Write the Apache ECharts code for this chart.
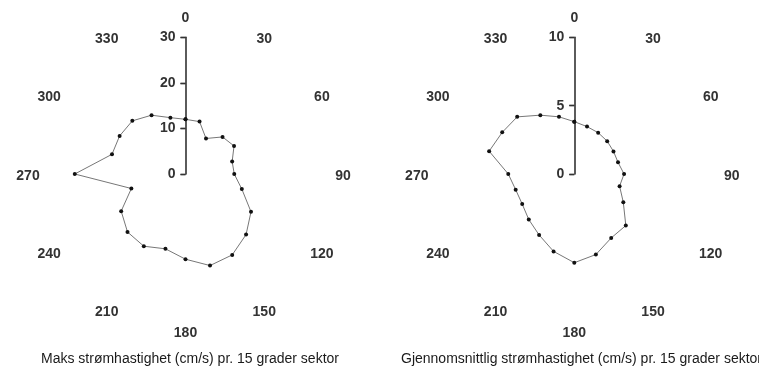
<!DOCTYPE html>
<html><head><meta charset="utf-8">
<script src="https://cdn.jsdelivr.net/npm/echarts@6/dist/echarts.min.js"></script>
<style>html,body{margin:0;padding:0;background:#fff}#c{width:759px;height:369px}</style>
</head><body><div id="c"></div>
<script>
var sectors = [0,15,30,45,60,75,90,105,120,135,150,165,180,195,210,225,240,255,270,285,300,315,330,345];
var maxSpeed = [12,11.9,9.0,11.5,12.3,10.6,10.7,12.8,16.6,18.8,20.5,20.8,18.7,17.0,18.3,18.0,16.3,12.3,24.3,16.7,16.7,16.5,14.9,12.8];
var meanSpeed = [3.83,3.59,3.49,3.40,3.31,3.31,3.64,3.43,4.14,5.33,5.40,6.10,6.49,5.86,5.15,4.71,4.40,4.44,4.83,6.45,6.09,5.91,4.97,4.33];
var leftTitle = 'Maks strømhastighet (cm/s) pr. 15 grader sektor';
var rightTitle = 'Gjennomsnittlig strømhastighet (cm/s) pr. 15 grader sektor';
var leftRange = {max:30, interval:10};
var rightRange = {max:10, interval:5};

function closed(vals){
  var d = sectors.map(function(a,i){return [vals[i], a];});
  d.push([vals[0], 360]);
  return d;
}
var font = 'Liberation Sans';
var labelColor = '#333';
var R = 136.7;          // polar radius (px)
var labelMargin = -3;   // anchor radius offset
var labelRadius = 157.5;// where label centres should sit
var labelDown = 1.7;    // small downward nudge of all angle labels
var labelH = 14;

var ctx = document.createElement('canvas').getContext('2d');
ctx.font = 'bold 14px "' + font + '"';
var rich = {};
for (var a = 0; a < 360; a += 30) {
  var th = a * Math.PI / 180, s = Math.sin(th), c = -Math.cos(th);
  var rp = R + labelMargin;
  var ax = rp * s, ay = rp * c, cx = labelRadius * s, cy = labelRadius * c + labelDown;
  var w = ctx.measureText(String(a)).width;
  var pt = 0, pr = 0, pb = 0, pl = 0;
  if (Math.abs(ax) / R >= 0.3) { if (ax > 0) pl = cx - ax - w / 2; else pr = ax - cx - w / 2; }
  if (Math.abs(ay) / R >= 0.3) { if (ay > 0) pt = 2 * (cy - ay) - labelH; else pb = 2 * (ay - cy) - labelH; }
  else { pt = 2 * labelDown; }
  rich['a' + a] = {padding: [pt, pr, pb, pl].map(function(x){return Math.max(0, x);}),
    fontFamily: font, fontSize: 14, fontWeight: 'bold', color: labelColor, lineHeight: labelH};
}

function angleAxis(idx, showLabels){
  return {polarIndex: idx, type:'value', min:0, max:360, interval:30, startAngle:90, clockwise:true,
    axisLine:{show:false}, axisTick:{show:false}, splitLine:{show:false},
    axisLabel:{show:showLabels, margin:labelMargin, color:labelColor, fontFamily:font, fontSize:14, fontWeight:'bold', rich: rich,
      formatter:function(v){return v===360?'':'{a' + v + '|' + v + '}';}}};
}
function radiusAxis(idx, rng, main){
  return {polarIndex: idx, type:'value', min:0, max:rng.max, interval:rng.interval,
    axisLine:{show:main, lineStyle:{color:'#333', width:1.6}},
    axisTick:{show:true, inside:!main, length:5, lineStyle:{color:'#333', width:1.4}},
    splitLine:{show:false},
    axisLabel:{show:main, margin:10, color:labelColor, fontFamily:font, fontSize:14, fontWeight:'bold'}};
}
var chart = echarts.init(document.getElementById('c'));
var centers = [[185.5,174],[574.3,174]];
chart.setOption({
  animation:false,
  polar:[{center:centers[0], radius:R},{center:centers[1], radius:R},{center:centers[0], radius:R},{center:centers[1], radius:R}],
  angleAxis:[angleAxis(0,true), angleAxis(1,true), angleAxis(2,false), angleAxis(3,false)],
  radiusAxis:[radiusAxis(0,leftRange,true), radiusAxis(1,rightRange,true), radiusAxis(2,leftRange,false), radiusAxis(3,rightRange,false)],
  title:[
    {text:leftTitle, left:185, top:347, textAlign:'center', textStyle:{fontFamily:font, fontSize:14, fontWeight:'normal', color:'#1a1a1a'}},
    {text:rightTitle, left:576.5, top:347, textAlign:'center', textStyle:{fontFamily:font, fontSize:14, fontWeight:'normal', color:'#1a1a1a'}}
  ],
  series:[
    {type:'line', coordinateSystem:'polar', polarIndex:0, data:closed(maxSpeed), symbol:'circle', symbolSize:4,
      lineStyle:{color:'#777', width:1}, itemStyle:{color:'#111'}},
    {type:'line', coordinateSystem:'polar', polarIndex:1, data:closed(meanSpeed), symbol:'circle', symbolSize:4,
      lineStyle:{color:'#777', width:1}, itemStyle:{color:'#111'}}
  ]
});
</script></body></html>
